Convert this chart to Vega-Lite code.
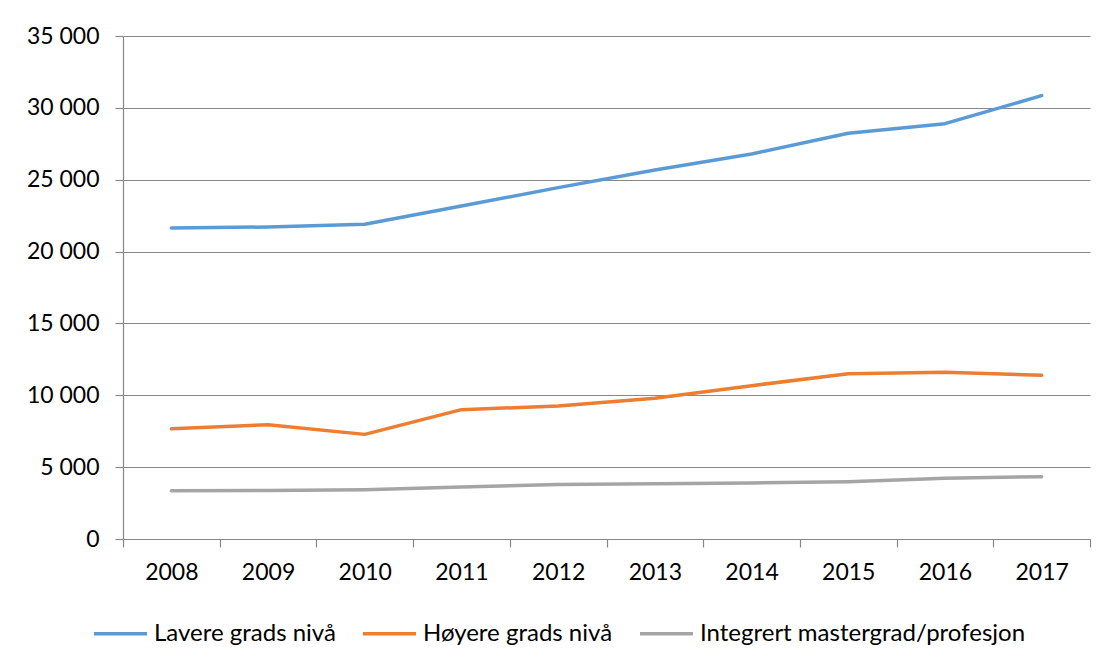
{
  "$schema": "https://vega.github.io/schema/vega-lite/v6.json",
  "width": 967,
  "height": 503,
  "autosize": {"type": "none"},
  "padding": {"left": 123, "top": 36, "right": 16, "bottom": 127},
  "background": "white",
  "config": {
    "view": {"stroke": null},
    "font": "Lato",
    "axis": {
      "domainColor": "#888888",
      "tickColor": "#888888",
      "gridColor": "#888888",
      "gridWidth": 1.2,
      "domainWidth": 1.2,
      "tickWidth": 1.2,
      "tickSize": 8,
      "labelFontSize": 23,
      "labelColor": "#000000",
      "labelFont": "Lato",
      "title": null
    }
  },
  "data": {
    "values": [
      {"year": "2008", "serie": "Lavere grads nivå", "value": 21640},
      {"year": "2009", "serie": "Lavere grads nivå", "value": 21710},
      {"year": "2010", "serie": "Lavere grads nivå", "value": 21900},
      {"year": "2011", "serie": "Lavere grads nivå", "value": 23170},
      {"year": "2012", "serie": "Lavere grads nivå", "value": 24450},
      {"year": "2013", "serie": "Lavere grads nivå", "value": 25680},
      {"year": "2014", "serie": "Lavere grads nivå", "value": 26790},
      {"year": "2015", "serie": "Lavere grads nivå", "value": 28230},
      {"year": "2016", "serie": "Lavere grads nivå", "value": 28900},
      {"year": "2017", "serie": "Lavere grads nivå", "value": 30850},
      {"year": "2008", "serie": "Høyere grads nivå", "value": 7680},
      {"year": "2009", "serie": "Høyere grads nivå", "value": 7950},
      {"year": "2010", "serie": "Høyere grads nivå", "value": 7280},
      {"year": "2011", "serie": "Høyere grads nivå", "value": 9000},
      {"year": "2012", "serie": "Høyere grads nivå", "value": 9250},
      {"year": "2013", "serie": "Høyere grads nivå", "value": 9790},
      {"year": "2014", "serie": "Høyere grads nivå", "value": 10670},
      {"year": "2015", "serie": "Høyere grads nivå", "value": 11500},
      {"year": "2016", "serie": "Høyere grads nivå", "value": 11600},
      {"year": "2017", "serie": "Høyere grads nivå", "value": 11390},
      {"year": "2008", "serie": "Integrert mastergrad/profesjon", "value": 3360},
      {"year": "2009", "serie": "Integrert mastergrad/profesjon", "value": 3370},
      {"year": "2010", "serie": "Integrert mastergrad/profesjon", "value": 3430},
      {"year": "2011", "serie": "Integrert mastergrad/profesjon", "value": 3620},
      {"year": "2012", "serie": "Integrert mastergrad/profesjon", "value": 3800},
      {"year": "2013", "serie": "Integrert mastergrad/profesjon", "value": 3850},
      {"year": "2014", "serie": "Integrert mastergrad/profesjon", "value": 3900},
      {"year": "2015", "serie": "Integrert mastergrad/profesjon", "value": 3990},
      {"year": "2016", "serie": "Integrert mastergrad/profesjon", "value": 4220},
      {"year": "2017", "serie": "Integrert mastergrad/profesjon", "value": 4340}
    ]
  },
  "mark": {"type": "line", "strokeWidth": 3.5, "strokeCap": "round", "strokeJoin": "round"},
  "encoding": {
    "x": {
      "field": "year",
      "type": "ordinal",
      "bandPosition": 0.5,
      "scale": {"type": "band", "paddingInner": 0, "paddingOuter": 0},
      "axis": {"labelAngle": 0, "tickBand": "extent", "grid": false, "labelPadding": 14, "domain": true}
    },
    "y": {
      "field": "value",
      "type": "quantitative",
      "scale": {"domain": [0, 35000], "nice": false},
      "axis": {
        "values": [0, 5000, 10000, 15000, 20000, 25000, 30000, 35000],
        "labelExpr": "replace(format(datum.value, ','), ',', ' ')",
        "grid": true,
        "labelPadding": 16
      }
    },
    "color": {
      "field": "serie",
      "type": "nominal",
      "scale": {
        "domain": ["Lavere grads nivå", "Høyere grads nivå", "Integrert mastergrad/profesjon"],
        "range": ["#5B9BD5", "#ED7D31", "#A5A5A5"]
      },
      "legend": {
        "orient": "none",
        "legendX": -31,
        "legendY": 569,
        "direction": "horizontal",
        "title": null,
        "symbolType": "stroke",
        "symbolSize": 2809,
        "symbolStrokeWidth": 3.5,
        "labelFontSize": 24,
        "labelFont": "Lato",
        "labelColor": "#000000",
        "labelOffset": 5,
        "columnPadding": 20,
        "labelLimit": 500
      }
    }
  }
}
